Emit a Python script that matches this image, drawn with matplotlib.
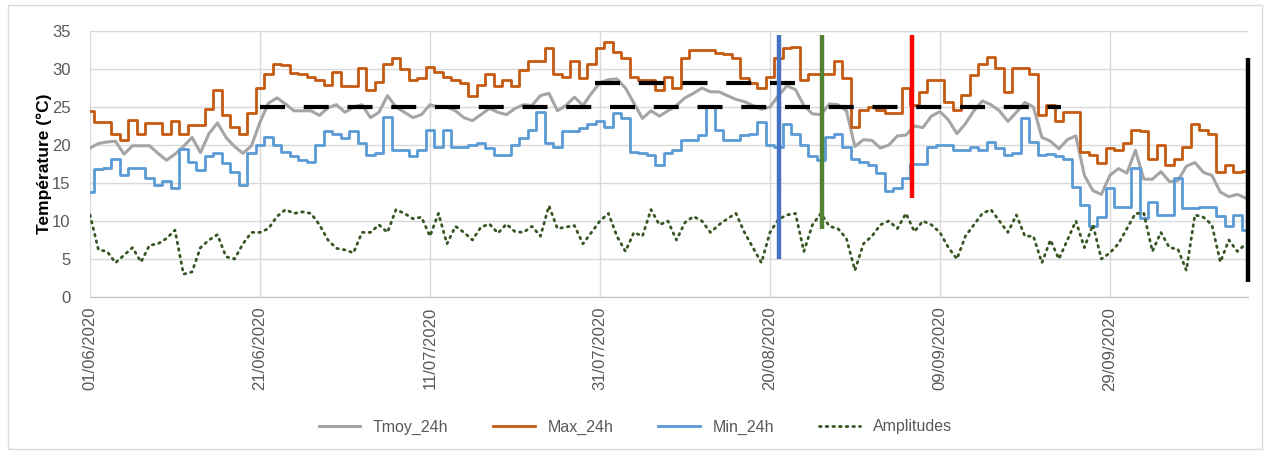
import pandas as pd
import matplotlib
matplotlib.use('Agg')
import matplotlib.pyplot as plt
import matplotlib.dates as mdates
from matplotlib.patches import Rectangle

plt.rcParams['font.family'] = ['Liberation Sans', 'DejaVu Sans']

# daily values, from 01/06/2020
dates = pd.date_range('2020-06-01', periods=137, freq='D')

tmoy = [19.6, 20.2, 20.4, 20.5, 18.8, 19.9, 19.9, 19.9, 18.9, 18.0,
        18.8, 19.8, 21.0, 19.0, 21.5, 22.9, 21.0, 19.8, 18.9, 19.9,
        23.0, 25.5, 26.2, 25.4, 24.5, 24.5, 24.5, 23.9, 24.9, 25.3,
        24.3, 25.0, 25.3, 23.6, 24.3, 26.5, 25.0, 24.3, 23.6, 24.0,
        25.3, 25.0, 25.0, 24.5, 23.6, 23.2, 24.0, 24.8, 24.3, 24.0,
        24.8, 25.3, 25.2, 26.5, 26.8, 24.5, 25.2, 26.3, 25.2, 26.8,
        28.2, 28.6, 28.7, 27.5, 25.5, 23.5, 24.5, 23.8, 24.5, 25.2,
        26.2, 26.8, 27.5, 27.0, 27.0, 26.5, 26.0, 25.7, 25.2, 24.7,
        25.0, 26.5, 27.8, 27.3, 25.2, 24.1, 24.0, 25.4, 25.3, 24.5,
        19.8, 20.7, 20.6, 19.6, 20.0, 21.2, 21.3, 22.5, 22.3, 23.8,
        24.4, 23.3, 21.5, 22.8, 24.5, 25.8, 25.3, 24.5, 23.1, 24.3,
        25.6, 25.0, 21.0, 20.5, 19.5, 20.7, 21.2, 16.0, 14.0, 13.5,
        16.0, 16.9, 16.3, 19.3, 15.5, 15.5, 16.5, 15.2, 15.3, 17.2,
        17.7, 16.4, 16.0, 13.8, 13.2, 13.5, 13.0]

tmax = [24.5, 23.0, 23.0, 21.5, 20.7, 23.3, 21.5, 22.9, 22.9, 21.4,
        23.1, 21.4, 22.6, 22.6, 24.8, 27.2, 23.9, 22.4, 21.5, 24.2,
        27.5, 29.4, 30.6, 30.5, 29.5, 29.4, 29.0, 28.6, 27.9, 29.6,
        27.7, 27.7, 30.1, 27.2, 28.3, 30.7, 31.4, 30.0, 28.6, 28.8,
        30.2, 29.6, 29.0, 28.6, 28.1, 26.4, 27.9, 29.4, 27.7, 28.5,
        27.7, 29.9, 31.0, 31.0, 32.7, 29.4, 29.0, 31.0, 28.8, 30.7,
        32.7, 33.6, 32.3, 31.4, 29.0, 28.6, 28.6, 27.2, 29.0, 27.5,
        31.5, 32.5, 32.5, 32.5, 32.1, 32.0, 31.4, 28.8, 28.1, 27.5,
        29.0, 31.4, 32.7, 32.9, 28.6, 29.4, 29.4, 29.4, 31.0, 28.8,
        22.4, 24.6, 25.0, 24.6, 24.2, 24.2, 27.5, 25.3, 27.0, 28.6,
        28.6, 25.7, 24.6, 26.6, 29.2, 30.7, 31.6, 30.1, 27.0, 30.1,
        30.1, 29.4, 23.9, 25.3, 23.1, 24.4, 24.4, 19.1, 18.7, 17.6,
        19.6, 19.3, 20.2, 22.0, 21.8, 18.2, 20.0, 17.4, 18.2, 19.8,
        22.7, 22.0, 21.5, 16.5, 17.4, 16.5, 16.6]

tmin = [13.8, 16.9, 17.0, 18.2, 16.1, 17.0, 17.0, 15.6, 14.8, 15.3,
        14.3, 19.5, 17.8, 16.7, 18.5, 19.0, 17.6, 16.5, 14.7, 18.9,
        20.0, 21.1, 20.0, 19.1, 18.5, 18.0, 17.8, 20.0, 21.8, 21.5,
        20.9, 21.8, 20.2, 18.7, 18.9, 23.7, 19.3, 19.3, 18.5, 19.3,
        22.0, 19.8, 22.0, 19.8, 19.8, 20.0, 20.2, 19.6, 18.7, 18.7,
        20.0, 20.9, 22.0, 24.4, 20.2, 19.8, 21.8, 21.8, 22.2, 22.7,
        23.1, 22.4, 24.2, 23.5, 19.1, 19.0, 18.7, 17.4, 19.0, 19.3,
        20.7, 20.7, 21.3, 25.0, 22.0, 20.7, 20.7, 21.3, 21.5, 23.0,
        20.0, 19.8, 22.7, 21.5, 20.0, 18.5, 18.0, 21.1, 21.5, 19.8,
        18.2, 17.8, 17.4, 16.3, 13.9, 14.3, 15.6, 17.5, 17.5, 19.8,
        20.0, 20.0, 19.3, 19.3, 19.8, 19.3, 20.4, 19.6, 18.7, 18.9,
        23.5, 20.4, 18.7, 18.8, 18.5, 18.2, 14.5, 12.1, 9.3, 10.5,
        14.3, 11.9, 11.9, 17.0, 10.4, 12.5, 10.8, 10.8, 15.6, 11.7,
        11.7, 11.9, 11.9, 10.6, 9.3, 10.8, 8.8]

ampl = [10.8, 6.2, 6.0, 4.5, 5.5, 6.5, 4.6, 6.8, 7.0, 7.7,
        8.8, 3.0, 3.3, 6.5, 7.5, 8.2, 5.3, 5.0, 7.0, 8.5,
        8.5, 9.0, 10.6, 11.5, 11.0, 11.2, 11.0, 9.5, 7.5, 6.4,
        6.2, 5.8, 8.5, 8.5, 9.5, 8.5, 11.5, 11.0, 10.3, 10.5,
        8.0, 11.0, 7.0, 9.3, 8.5, 7.5, 9.2, 9.6, 8.4, 9.6,
        8.6, 8.5, 9.3, 8.0, 12.0, 9.0, 9.2, 9.4, 7.0, 8.5,
        10.0, 11.0, 8.0, 6.0, 8.5, 8.0, 11.5, 9.5, 10.0, 7.5,
        9.8, 10.6, 10.0, 8.5, 9.5, 10.3, 11.0, 8.5, 6.5, 4.5,
        8.5, 10.2, 10.8, 11.0, 6.0, 9.5, 11.0, 9.3, 9.0, 7.7,
        3.5, 7.0, 8.0, 9.5, 10.0, 9.0, 11.0, 8.6, 10.0, 9.5,
        8.5, 6.5, 5.0, 8.0, 9.5, 11.0, 11.5, 10.0, 8.5, 10.8,
        8.0, 8.0, 4.5, 7.5, 5.0, 7.5, 10.0, 6.5, 9.5, 5.0,
        5.8, 7.0, 9.0, 11.0, 11.0, 6.0, 8.5, 6.5, 6.3, 3.5,
        10.8, 10.5, 9.5, 4.6, 7.5, 6.0, 7.0]

tick_dates = pd.date_range('2020-06-01', periods=7, freq='20D')

# dashed reference levels
levels = [25.0, 28.2]
level_start = ['2020-06-21', '2020-07-30 10:00']
level_end = ['2020-09-23 05:00', '2020-08-24 12:00']

# coloured vertical markers
event_dates = ['2020-08-21 01:00', '2020-08-26 02:00', '2020-09-05 17:00', '2020-10-15 05:00']
event_low = [5, 9, 13, 2]
event_high = [34.5, 34.5, 34.5, 31.5]
event_colors = ['#4472C4', '#548235', '#FF0000', '#000000']

fig = plt.figure(figsize=(12.71, 4.53), dpi=100)
fig.patches.append(Rectangle((8 / 1271, 4 / 453), 1254 / 1271, 444 / 453,
                             transform=fig.transFigure, fill=False,
                             edgecolor='#D9D9D9', linewidth=1))
ax = fig.add_axes([90 / 1271, 156 / 453, 1158 / 1271, 266 / 453])

l1, = ax.plot(dates, tmoy, color='#A5A5A5', lw=2.2, label='Tmoy_24h')
l2, = ax.plot(dates, tmax, color='#C55A11', lw=2.0, drawstyle='steps-mid', label='Max_24h')
l3, = ax.plot(dates, tmin, color='#5B9BD5', lw=2.0, drawstyle='steps-mid', label='Min_24h')
l4, = ax.plot(dates, ampl, color='#375623', lw=2.0, linestyle=(0, (0.6, 1.8)),
              dash_capstyle='round', label='Amplitudes')

for y, a, b in zip(levels, level_start, level_end):
    ax.plot([pd.Timestamp(a), pd.Timestamp(b)], [y, y], color='black', lw=3,
            linestyle=(0, (6, 4.5)), zorder=5)

for d, lo, hi, c in zip(event_dates, event_low, event_high, event_colors):
    ax.plot([pd.Timestamp(d), pd.Timestamp(d)], [lo, hi], color=c, lw=3.2,
            zorder=6, clip_on=False, solid_capstyle='butt')

ax.set_ylim(0, 35)
ax.set_yticks(range(0, 36, 5))
ax.set_xlim(dates[0], dates[0] + pd.Timedelta(hours=136.25 * 24))
ax.set_xticks(tick_dates)
ax.xaxis.set_major_formatter(mdates.DateFormatter('%d/%m/%Y'))
ax.tick_params(axis='x', labelrotation=90, length=0, pad=7, labelsize=12, labelcolor='#595959')
ax.tick_params(axis='y', length=0, pad=14, labelsize=12, labelcolor='#595959')
ax.grid(True, color='#D9D9D9', lw=1)
ax.set_axisbelow(True)
for s in ['top', 'right', 'left']:
    ax.spines[s].set_visible(False)
ax.spines['bottom'].set_color('#BFBFBF')
ax.set_ylabel('Température (°C)', fontsize=12.5, fontweight='bold', labelpad=0)

fig.legend(handles=[l1, l2, l3, l4], loc='center', bbox_to_anchor=(0.5, 26 / 453),
           ncol=4, frameon=False, fontsize=11.5, handlelength=2.6, columnspacing=2.8,
           labelcolor='#595959')

fig.savefig('out.png', dpi=100)
